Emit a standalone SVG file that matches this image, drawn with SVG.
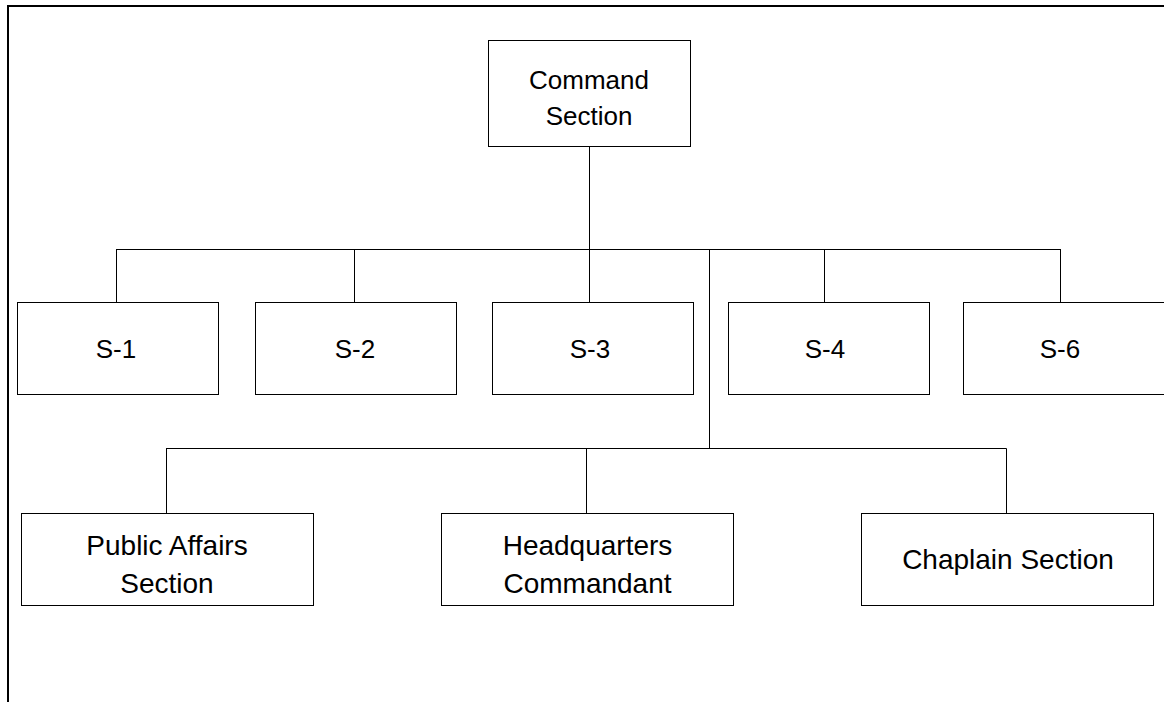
<svg xmlns="http://www.w3.org/2000/svg" width="1164" height="702" viewBox="0 0 1164 702">
<style>
.box{fill:#fff;stroke:#000;stroke-width:1}
.ln{stroke:#000;stroke-width:1;fill:none}
.frame{stroke:#000;stroke-width:2;fill:none}
text{font-family:"Liberation Sans",Arial,sans-serif;fill:#000;text-anchor:middle}
.t26{font-size:26px}
.t28{font-size:28px}
</style>
<rect width="1164" height="702" fill="#fff"/>
<path class="frame" d="M8,702 V6 H1164"/>
<g id="connectors">
<path class="ln" d="M589.5,146 V249.5"/>
<path class="ln" d="M116,249.5 H1060.5"/>
<path class="ln" d="M116.5,249.5 V302"/>
<path class="ln" d="M354.5,249.5 V302"/>
<path class="ln" d="M589.5,249.5 V302"/>
<path class="ln" d="M824.5,249.5 V302"/>
<path class="ln" d="M1060.5,249 V302"/>
<path class="ln" d="M709.5,249.5 V448.5"/>
<path class="ln" d="M166,448.5 H1006.5"/>
<path class="ln" d="M166.5,448.5 V513"/>
<path class="ln" d="M586.5,448.5 V513"/>
<path class="ln" d="M1006.5,448.5 V513"/>
</g>
<g id="command">
<rect class="box" x="488.5" y="40.5" width="202" height="106"/>
<text class="t26" x="589" y="89">Command</text>
<text class="t26" x="589" y="125">Section</text>
</g>
<g id="s1">
<rect class="box" x="17.5" y="302.5" width="201" height="92"/>
<text class="t26" x="116" y="358">S-1</text>
</g>
<g id="s2">
<rect class="box" x="255.5" y="302.5" width="201" height="92"/>
<text class="t26" x="355" y="358">S-2</text>
</g>
<g id="s3">
<rect class="box" x="492.5" y="302.5" width="201" height="92"/>
<text class="t26" x="590" y="358">S-3</text>
</g>
<g id="s4">
<rect class="box" x="728.5" y="302.5" width="201" height="92"/>
<text class="t26" x="825" y="358">S-4</text>
</g>
<g id="s6">
<rect class="box" x="963.5" y="302.5" width="202" height="92"/>
<text class="t26" x="1060" y="358">S-6</text>
</g>
<g id="public-affairs">
<rect class="box" x="21.5" y="513.5" width="292" height="92"/>
<text class="t28" x="167" y="555">Public Affairs</text>
<text class="t28" x="167" y="593">Section</text>
</g>
<g id="hq-commandant">
<rect class="box" x="441.5" y="513.5" width="292" height="92"/>
<text class="t28" x="587.5" y="555">Headquarters</text>
<text class="t28" x="587.5" y="593">Commandant</text>
</g>
<g id="chaplain">
<rect class="box" x="861.5" y="513.5" width="292" height="92"/>
<text class="t28" x="1008" y="569">Chaplain Section</text>
</g>
</svg>
